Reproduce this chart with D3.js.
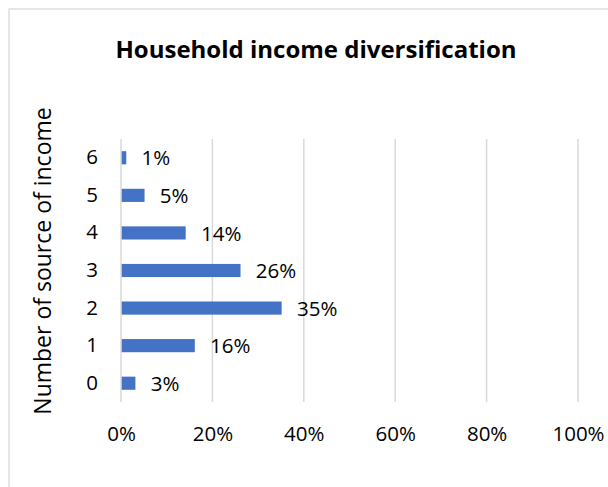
<!DOCTYPE html>
<html>
<head>
<meta charset="utf-8">
<script src="https://cdn.jsdelivr.net/npm/d3@7"></script>
<style>
  html, body { margin: 0; padding: 0; background: #ffffff; }
  svg { display: block; }
  text { font-family: "Open Sans", "Liberation Sans", sans-serif; fill: #000000; }
</style>
</head>
<body>
<svg id="chart" width="608" height="487"></svg>
<script>
// Number of income sources per household and share of households
const categories = ["0", "1", "2", "3", "4", "5", "6"];
const shares = [3, 16, 35, 26, 14, 5, 1];
const tickValues = [0, 20, 40, 60, 80, 100];
const tickLabels = ["0%", "20%", "40%", "60%", "80%", "100%"];

const svg = d3.select("#chart");
const W = 608, H = 487;
const plot = { left: 121, right: 578, top: 139, bottom: 402 };

// chart frame
svg.append("rect")
  .attr("x", 9).attr("y", 9)
  .attr("width", W + 20).attr("height", H + 20)
  .attr("fill", "#ffffff")
  .attr("stroke", "#d9d9d9").attr("stroke-width", 1.3);

const x = d3.scaleLinear().domain([0, 100]).range([plot.left, plot.right]);
const y = d3.scaleBand()
  .domain(categories.slice().reverse())
  .range([plot.top, plot.bottom])
  .paddingInner(0.65).paddingOuter(0.325);

// vertical gridlines
svg.append("g")
  .selectAll("line")
  .data(tickValues)
  .join("line")
  .attr("x1", d => x(d)).attr("x2", d => x(d))
  .attr("y1", plot.top).attr("y2", plot.bottom)
  .attr("stroke", "#d9d9d9").attr("stroke-width", 1.5);

// x axis labels
const xAxis = d3.axisBottom(x)
  .tickValues(tickValues)
  .tickFormat((d, i) => tickLabels[i])
  .tickSize(0).tickPadding(0);
const gx = svg.append("g")
  .attr("transform", `translate(0,${plot.bottom})`)
  .call(xAxis);
gx.select(".domain").remove();
gx.selectAll("text")
  .attr("y", 39).attr("dy", 0)
  .style("font-size", "20.5px");

// y axis labels
const yAxis = d3.axisLeft(y).tickSize(0).tickPadding(0);
const gy = svg.append("g")
  .attr("transform", `translate(${plot.left},0)`)
  .call(yAxis);
gy.select(".domain").remove();
gy.selectAll("text")
  .attr("x", -23)
  .style("font-size", "20.5px");

// bars
svg.append("g")
  .selectAll("rect")
  .data(categories)
  .join("rect")
  .attr("x", x(0) + 0.7)
  .attr("y", d => y(d))
  .attr("width", (d, i) => x(shares[i]) - x(0))
  .attr("height", y.bandwidth())
  .attr("fill", "#4472c4");

// value labels
svg.append("g")
  .selectAll("text")
  .data(categories)
  .join("text")
  .attr("x", (d, i) => x(shares[i]) + 16)
  .attr("y", d => y(d) + y.bandwidth() / 2)
  .attr("dy", "0.37em")
  .style("font-size", "20.5px")
  .text((d, i) => shares[i] + "%");

// title
svg.append("text")
  .attr("x", 316).attr("y", 58)
  .attr("text-anchor", "middle")
  .style("font-size", "24px")
  .style("font-weight", "bold")
  .text("Household income diversification");

// y axis title
svg.append("text")
  .attr("transform", "translate(51,261) rotate(-90)")
  .attr("text-anchor", "middle")
  .style("font-size", "23px")
  .text("Number of source of income");
</script>
</body>
</html>
